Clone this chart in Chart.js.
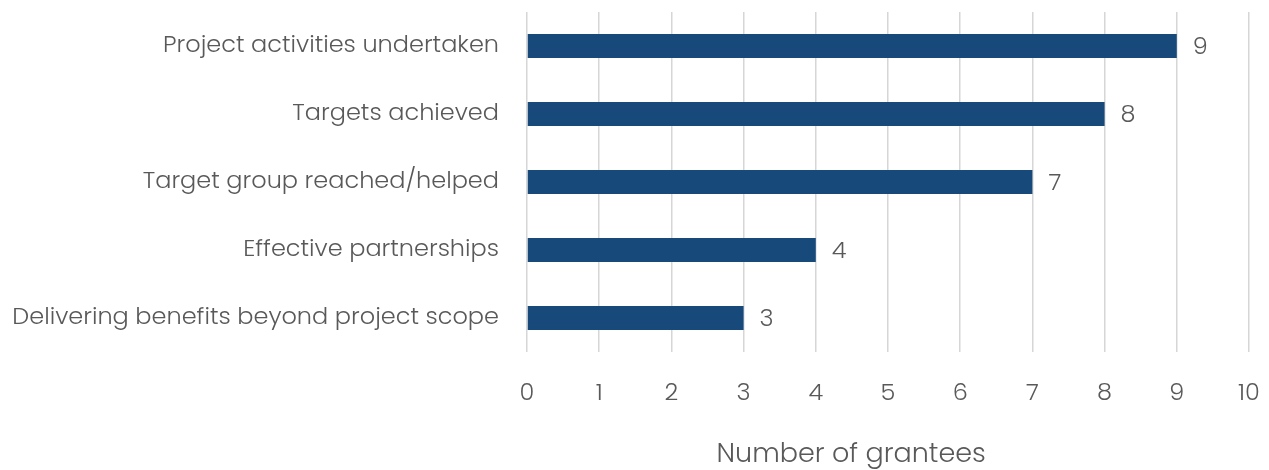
<!DOCTYPE html>
<html>
<head>
<meta charset="utf-8">
<script src="https://cdn.jsdelivr.net/npm/chart.js@4/dist/chart.umd.min.js"></script>
<style>
  html, body { margin: 0; padding: 0; background: #fff; }
  #wrap { width: 1269px; height: 470px; }
</style>
</head>
<body>
<div id="wrap"><canvas id="granteeChart"></canvas></div>
<script>
var categories = [
    'Project activities undertaken',
    'Targets achieved',
    'Target group reached/helped',
    'Effective partnerships',
    'Delivering benefits beyond project scope'
];
var grantees = [9, 8, 7, 4, 3];
var xTicks = [0, 1, 2, 3, 4, 5, 6, 7, 8, 9, 10];
var xTitle = 'Number of grantees';

var textColor = '#595959';
var fontFamily = "Poppins, 'Open Sans', sans-serif";

// value labels at the end of each bar
var valueLabels = {
    id: 'valueLabels',
    afterDatasetsDraw: function(chart) {
        var ctx = chart.ctx;
        var meta = chart.getDatasetMeta(0);
        ctx.save();
        ctx.fillStyle = textColor;
        ctx.font = '300 24px ' + fontFamily;
        ctx.textAlign = 'left';
        ctx.textBaseline = 'middle';
        meta.data.forEach(function(bar, i) {
            ctx.fillText(grantees[i], bar.x + 16, bar.y + 2);
        });
        ctx.restore();
    }
};

// axis title, sits a little left of the plot centre
var axisTitle = {
    id: 'axisTitle',
    afterDraw: function(chart) {
        var ctx = chart.ctx;
        var area = chart.chartArea;
        ctx.save();
        ctx.fillStyle = textColor;
        ctx.font = '300 27px ' + fontFamily;
        ctx.textAlign = 'center';
        ctx.textBaseline = 'middle';
        ctx.fillText(xTitle, area.left + (area.right - area.left) * 0.449, 455);
        ctx.restore();
    }
};

document.addEventListener('DOMContentLoaded', function() {
    var ctx = document.getElementById('granteeChart');
    new Chart(ctx, {
        type: 'bar',
        data: {
            labels: categories,
            datasets: [{
                label: xTitle,
                data: grantees,
                backgroundColor: '#174A7B',
                borderWidth: 0,
                barPercentage: 0.7,
                categoryPercentage: 0.5
            }]
        },
        options: {
            indexAxis: 'y',
            responsive: true,
            maintainAspectRatio: false,
            animation: false,
            layout: {
                padding: { top: 12, right: 20, left: 0, bottom: 0 }
            },
            plugins: {
                legend: { display: false },
                tooltip: { enabled: false }
            },
            scales: {
                x: {
                    min: 0,
                    max: 10,
                    afterBuildTicks: function(scale) {
                        scale.ticks = xTicks.map(function(v) { return { value: v }; });
                    },
                    afterFit: function(scale) {
                        scale.height = 118;
                        scale.paddingLeft = 0;
                        scale.paddingRight = 0;
                    },
                    grid: {
                        color: '#d6d6d6',
                        lineWidth: 1.5,
                        drawTicks: false
                    },
                    border: { display: false },
                    ticks: {
                        color: textColor,
                        padding: 28,
                        font: { size: 24, weight: '300', family: fontFamily }
                    }
                },
                y: {
                    afterFit: function(scale) {
                        scale.width = 527;
                        scale.paddingTop = 0;
                        scale.paddingBottom = 0;
                    },
                    grid: { display: false, drawTicks: false },
                    border: { display: false },
                    ticks: {
                        color: textColor,
                        padding: 28,
                        font: { size: 24, weight: '300', family: fontFamily }
                    }
                }
            }
        },
        plugins: [valueLabels, axisTitle]
    });
});
</script>
</body>
</html>
